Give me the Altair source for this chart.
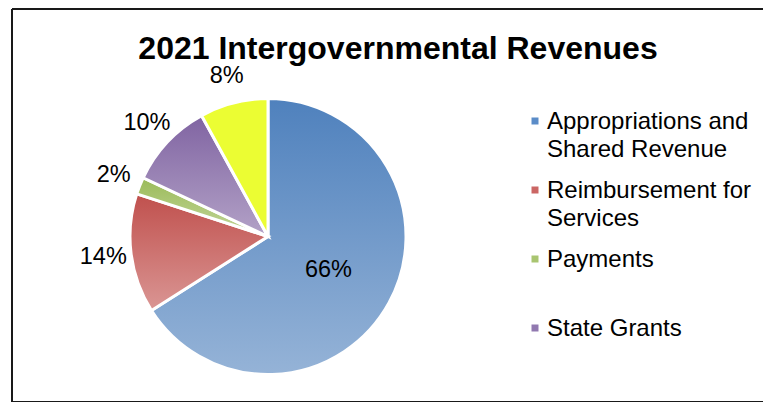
import altair as alt
import pandas as pd

title_text = "2021 Intergovernmental Revenues"
categories = ["Appropriations and Shared Revenue", "Reimbursement for Services",
              "Payments", "State Grants", "Other"]
values = [66, 14, 2, 10, 8]
order = [1, 2, 3, 4, 5]
top_colors = ["#4F81BD", "#C0504D", "#9BBB59", "#8064A2", "#EBFD33"]
bottom_colors = ["#95B3D7", "#DA9694", "#C3D69B", "#B3A2C7", "#EBFD33"]

legend_names = ["Appropriations and Shared Revenue", "Reimbursement for Services",
                "Payments", "State Grants"]
legend_texts = ["Appropriations and\nShared Revenue", "Reimbursement for\nServices",
                "Payments", "State Grants"]
legend_colors = ["#5B8CC8", "#CB6664", "#A9C570", "#9179B0"]

FONT = "Liberation Sans"
CX, CY = 256, 227.5
W, H = 751, 393

df = pd.DataFrame({"category": categories, "value": values, "order": order})

base = (
    alt.Chart(df)
    .transform_window(v1="sum(value)", sort=[alt.SortField("order")], frame=[None, 0])
    .transform_calculate(v0="datum.v1 - datum.value",
                         mid="datum.v1 - datum.value / 2",
                         label="datum.value + '%'")
)
theta_scale = alt.Scale(domain=[0, 100])

layers = []
for cat, top, bot in zip(categories, top_colors, bottom_colors):
    grad = alt.Gradient(
        gradient="linear",
        stops=[alt.GradientStop(color=top, offset=0), alt.GradientStop(color=bot, offset=1)],
        x1=0, x2=0, y1=0, y2=1,
    )
    layers.append(
        base.transform_filter(alt.datum.category == cat)
        .mark_arc(outerRadius=138, stroke="white", strokeWidth=3, fill=grad)
        .encode(theta=alt.Theta("v0:Q", scale=theta_scale), theta2=alt.Theta2("v1:Q"),
                x=alt.value(CX), y=alt.value(CY))
    )

outside = (
    base.transform_filter(alt.datum.category != categories[0])
    .mark_text(fontSize=23.5, font=FONT, color="black", radius=166, baseline="middle")
    .encode(theta=alt.Theta("mid:Q", scale=theta_scale), text="label:N",
            x=alt.value(CX), y=alt.value(CY))
)
inside = (
    base.transform_filter(alt.datum.category == categories[0])
    .mark_text(fontSize=23.5, font=FONT, color="black", radius=69, baseline="middle")
    .encode(theta=alt.Theta("mid:Q", scale=theta_scale), text="label:N",
            x=alt.value(CX), y=alt.value(CY))
)

leg_df = pd.DataFrame({"name": legend_names, "text": legend_texts})
leg_y = alt.Y("name:N", sort=legend_names,
              scale=alt.Scale(type="point", range=[112, 319], padding=0), axis=None)
leg_sq = alt.Chart(leg_df).mark_square(size=49, filled=True, opacity=1).encode(
    y=leg_y, x=alt.value(523),
    color=alt.Color("name:N", scale=alt.Scale(domain=legend_names, range=legend_colors), legend=None),
)
leg_tx = alt.Chart(leg_df).mark_text(
    align="left", baseline="alphabetic", dy=8, fontSize=24, font=FONT,
    lineBreak="\n", lineHeight=27.5, color="black",
).encode(y=leg_y, x=alt.value(535), text="text:N")

title = alt.Chart(pd.DataFrame({"t": [title_text]})).mark_text(
    fontSize=32, fontWeight="bold", font=FONT, align="center", baseline="alphabetic", color="black"
).encode(x=alt.value(386), y=alt.value(50), text="t:N")

frame_color = "#1a1a1a"
frame_left = alt.Chart(df).mark_rule(color=frame_color, strokeWidth=1.6).encode(
    x=alt.value(0), y=alt.value(0), y2=alt.value(H))
frame_top = alt.Chart(df).mark_rule(color=frame_color, strokeWidth=1.6).encode(
    x=alt.value(0), x2=alt.value(W + 10), y=alt.value(0))
frame_bottom = alt.Chart(df).mark_rule(color=frame_color, strokeWidth=1.6).encode(
    x=alt.value(0), x2=alt.value(W + 10), y=alt.value(H))

chart = (
    alt.layer(*layers, outside, inside, leg_sq, leg_tx, title, frame_left, frame_top, frame_bottom)
    .properties(width=W, height=H, autosize="none",
                padding={"left": 4, "top": 1, "right": 0, "bottom": 0})
    .configure_view(stroke=None)
)

chart.save("out.html", embed_options={"renderer": "svg", "actions": False})
